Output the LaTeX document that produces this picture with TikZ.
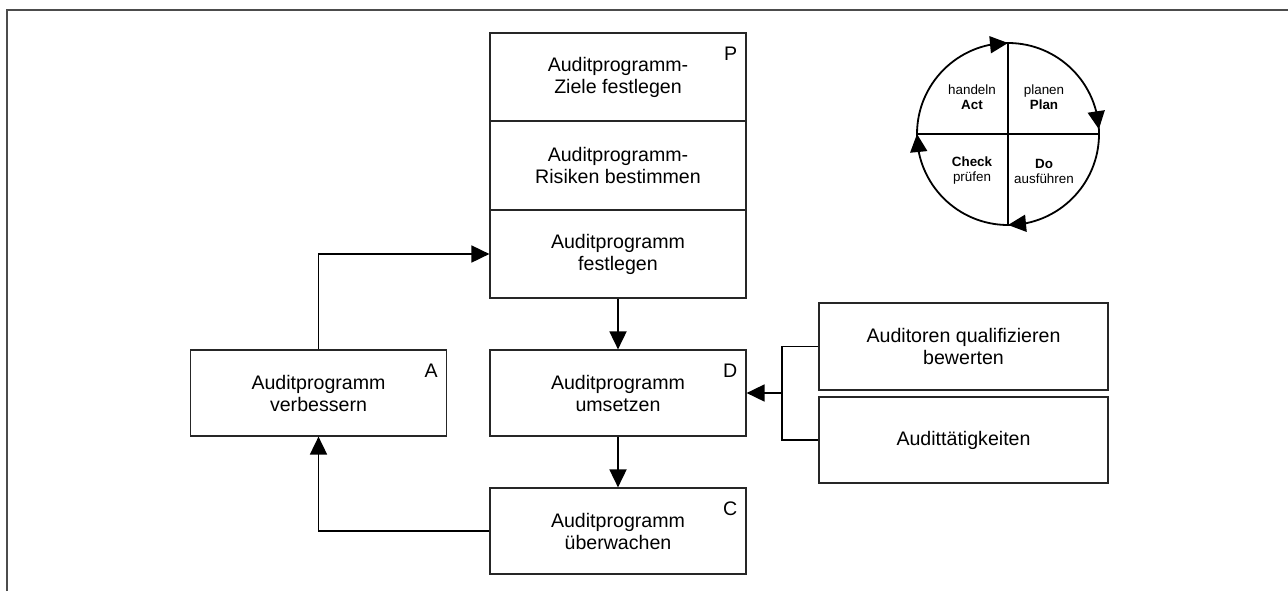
\documentclass[tikz,border=0pt]{standalone}
\usepackage{fontspec}
\setmainfont{Liberation Sans}
\usetikzlibrary{arrows.meta}

\tikzset{
  box/.style={draw=black!85, line width=0.6pt, rectangle, inner sep=0pt,
    minimum width=128pt, minimum height=44pt, align=center,
    font=\fontsize{9.8}{11}\selectfont},
  corner/.style={inner sep=0pt, anchor=north east, font=\fontsize{9.8}{11}\selectfont},
  flow/.style={line width=0.9pt, -{Triangle[length=9pt,width=8.5pt]}},
  small/.style={align=center, inner sep=0pt, font=\fontsize{6.7}{7.5}\selectfont}
}

\begin{document}
\begin{tikzpicture}[x=0.5pt,y=0.5pt]

\useasboundingbox (0,0) rectangle (1288,591);

% === Frame ===
\draw[line width=1pt, black!70] (7,0) -- (7,581.5) -- (1288,581.5);

% === Plan stack ===
\node[box] (ziele) at (618,514) {Auditprogramm-\\Ziele festlegen};
\node[box] (risiko) at (618,425.5) {Auditprogramm-\\Risiken bestimmen};
\node[box] (festl) at (618,337) {Auditprogramm\\festlegen};
\node[corner] (lp) at ([shift={(-4.5pt,-7pt)}]ziele.north east) {P};

% === Do, Check, Act ===
\node[box, minimum height=43pt] (umsetz) at (618,198) {Auditprogramm\\umsetzen};
\node[corner] (ld) at ([shift={(-4.5pt,-7pt)}]umsetz.north east) {D};

\node[box, minimum height=43pt] (ueberw) at (618,60) {Auditprogramm\\überwachen};
\node[corner] (lc) at ([shift={(-4.5pt,-7pt)}]ueberw.north east) {C};

\node[box, minimum height=43pt] (verbess) at (318.5,198) {Auditprogramm\\verbessern};
\node[corner] (la) at ([shift={(-4.5pt,-7pt)}]verbess.north east) {A};

% === Inputs ===
\node[box, minimum width=144.5pt, minimum height=43.5pt] (quali) at (963.5,244.5) {Auditoren qualifizieren\\bewerten};
\node[box, minimum width=144.5pt, minimum height=43pt] (taetig) at (963.5,151) {Audittätigkeiten};

% === Connectors ===
\draw[flow] (festl) -- (umsetz);
\draw[flow] (umsetz) -- (ueberw);
\draw[flow] (ueberw.west) -| (verbess.south);
\draw[flow] (verbess.north) |- (festl.west);

\coordinate (knoten) at (782,198);
\draw[line width=0.9pt] (quali.west) -| (knoten) |- (taetig.west);
\draw[flow] (knoten) -- (umsetz.east);

% === PDCA circle ===
\node[circle, draw, line width=0.9pt, inner sep=0pt, outer sep=0pt, minimum size=91pt] (zyklus) at (1008,457) {};
\draw[line width=0.9pt] (zyklus.north) -- (zyklus.south);
\draw[line width=0.9pt] (zyklus.west) -- (zyklus.east);
% arrow heads, clockwise
\draw[flow] ([shift={(101:45.5pt)}]zyklus.center) -- (zyklus.north);
\draw[flow] ([shift={(14:45.5pt)}]zyklus.center) -- ([shift={(3:45.5pt)}]zyklus.center);
\draw[flow] ([shift={(-79:45.5pt)}]zyklus.center) -- (zyklus.south);
\draw[flow] ([shift={(-169:45.5pt)}]zyklus.center) -- ([shift={(-180:45.5pt)}]zyklus.center);

\node[small] (act) at (972,494) {handeln\\\textbf{Act}};
\node[small] (plan) at (1044,494) {planen\\\textbf{Plan}};
\node[small] (check) at (972,420) {\textbf{Check}\\prüfen};
\node[small] (doo) at (1044,420) {\textbf{Do}\\ausführen};

\end{tikzpicture}
\end{document}
